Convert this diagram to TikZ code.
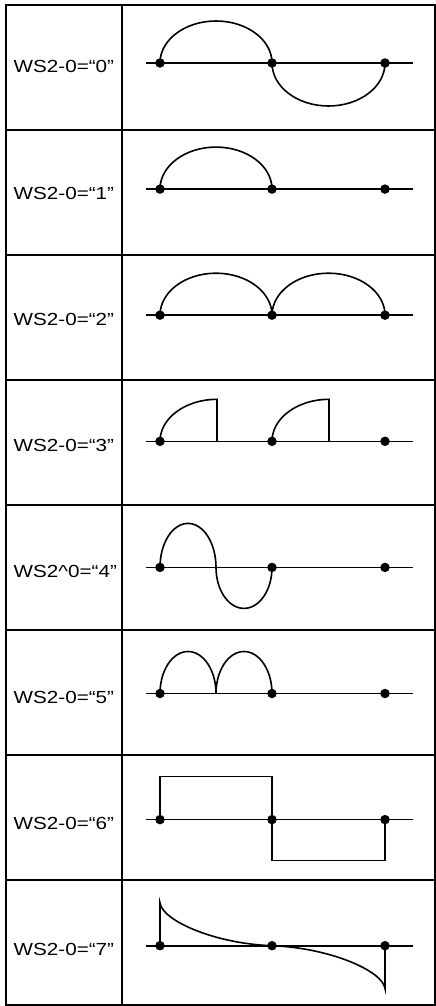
\documentclass[tikz,border=0pt]{standalone}
\usepackage{fontspec}
\newfontfamily\labfont[FakeStretch=1.18]{Liberation Sans}
\begin{document}
\begin{tikzpicture}[x=1pt,y=1pt,
  gridline/.style={line width=2.2pt},
  wave/.style={line width=1.6pt, line join=miter},
  axisline/.style={line width=1.6pt},
  dot/.style={circle, fill=black, inner sep=0pt, minimum size=9.5pt},
  lab/.style={anchor=base west, inner sep=0pt, font=\labfont\fontsize{17.5}{21}\selectfont}]
\useasboundingbox (0,0) rectangle (436,-1006);
% table
\draw[gridline] (6,-5) rectangle (435,-1005);
\draw[gridline] (121.7,-5) -- (121.7,-1005);
\foreach \r in {1,...,7} \draw[gridline] (6,{-5-125*\r}) -- (435,{-5-125*\r});
% rows: axis, labels
\foreach \i/\t in {0/WS2-0=“0”,1/WS2-0=“1”,2/WS2-0=“2”,3/WS2-0=“3”,4/WS2\textasciicircum0=“4”,5/WS2-0=“5”,6/WS2-0=“6”,7/WS2-0=“7”}{
  \begin{scope}[yshift={-(63+126.1*\i)*1pt}]
    \coordinate (aL\i) at (146,0);
    \coordinate (aR\i) at (413,0);
    \draw[axisline] (aL\i) -- (aR\i);
    \node[lab] (t\i) at (13.5,-10) {\t};
  \end{scope}
}
% waveforms
\begin{scope}[yshift=-63pt]
  \draw[wave] (160,0) arc[start angle=180, end angle=0, x radius=56pt, y radius=42pt]
              arc[start angle=180, end angle=360, x radius=56.5pt, y radius=43pt];
\end{scope}
\begin{scope}[yshift=-189.1pt]
  \draw[wave] (160,0) arc[start angle=180, end angle=0, x radius=56pt, y radius=42pt];
\end{scope}
\begin{scope}[yshift=-315.2pt]
  \draw[wave] (160,0) arc[start angle=180, end angle=0, x radius=56pt, y radius=42pt]
              arc[start angle=180, end angle=0, x radius=56.5pt, y radius=42pt];
\end{scope}
\begin{scope}[yshift=-441.3pt]
  \draw[wave] (160,0) arc[start angle=180, end angle=90, x radius=57pt, y radius=42pt] -- (217,0);
  \draw[wave] (272,0) arc[start angle=180, end angle=90, x radius=57pt, y radius=42pt] -- (329,0);
\end{scope}
\begin{scope}[yshift=-567.4pt]
  \draw[wave] (160,0) arc[start angle=180, end angle=0, x radius=28pt, y radius=44pt]
              arc[start angle=180, end angle=360, x radius=28pt, y radius=41pt];
\end{scope}
\begin{scope}[yshift=-693.5pt]
  \draw[wave] (160,0) arc[start angle=180, end angle=0, x radius=28pt, y radius=42pt]
              arc[start angle=180, end angle=0, x radius=28pt, y radius=42pt];
\end{scope}
\begin{scope}[yshift=-819.6pt]
  \draw[wave] (160,0) -- (160,43) -- (272,43) -- (272,-41) -- (385,-41) -- (385,0);
\end{scope}
\begin{scope}[yshift=-945.7pt]
  \draw[wave] (160,0) -- (160,43) .. controls (162,25) and (215,2) .. (272,0)
              .. controls (329,-2) and (383,-25) .. (385,-43) -- (385,0);
\end{scope}
% dots
\foreach \i in {0,...,7}{
  \begin{scope}[yshift={-(63+126.1*\i)*1pt}]
    \node[dot] (p\i a) at (160,0) {};
    \node[dot] (p\i b) at (272,0) {};
    \node[dot] (p\i c) at (385,0) {};
  \end{scope}
}
\end{tikzpicture}
\end{document}
